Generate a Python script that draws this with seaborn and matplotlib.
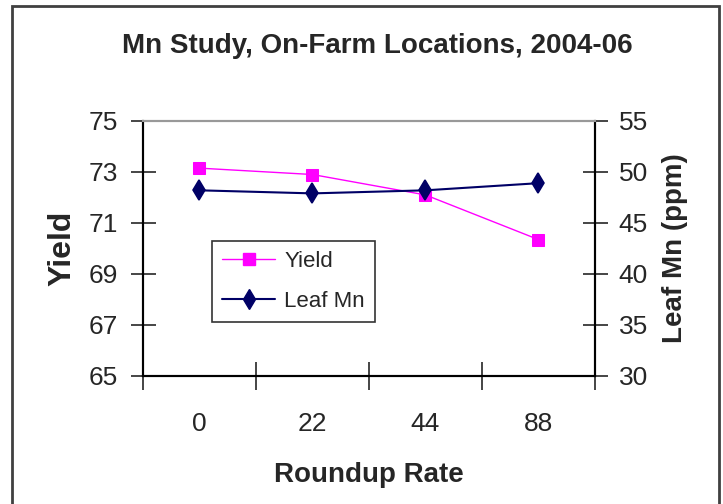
import matplotlib
matplotlib.use("Agg")
import matplotlib.pyplot as plt
import seaborn as sns
from matplotlib.lines import Line2D
from matplotlib.patches import Rectangle

# data
rates = ["0", "22", "44", "88"]
yield_vals = [73.15, 72.9, 72.1, 70.35]
leaf_mn = [48.2, 47.9, 48.2, 48.9]

yield_ticks = [65, 67, 69, 71, 73, 75]
mn_ticks = [30, 35, 40, 45, 50, 55]

yield_color = "#FF00FF"
mn_color = "#000066"

sns.set_style("white")
plt.rcParams["font.family"] = ["Liberation Sans", "DejaVu Sans"]

fig = plt.figure(figsize=(7.23, 5.04), dpi=100)
ax = fig.add_axes([0.1978, 0.254, 0.625, 0.506])
ax2 = ax.twinx()

sns.pointplot(x=rates, y=yield_vals, ax=ax, color=yield_color, markers="s",
              markersize=8.5, linewidth=1.0, errorbar=None)
sns.pointplot(x=rates, y=leaf_mn, ax=ax2, color=mn_color, markers="d",
              markersize=10, linewidth=1.5, errorbar=None)

ax.set_xlim(-0.5, 3.5)
ax.set_ylim(65, 75)
ax2.set_ylim(30, 55)
ax.set_yticks(yield_ticks)
ax2.set_yticks(mn_ticks)
ax.set_xticks([0, 1, 2, 3])
ax.set_xticklabels(rates)

# category boundary ticks like the original spreadsheet chart
ax.set_xticks([-0.5, 0.5, 1.5, 2.5, 3.5], minor=True)
ax.tick_params(axis="x", which="major", length=0, labelsize=19, pad=26)
ax.tick_params(axis="x", which="minor", direction="inout", length=20, width=1.2, bottom=True)
ax.tick_params(axis="y", direction="inout", length=18, width=1.2, labelsize=19, pad=9, left=True)
ax2.tick_params(axis="y", direction="inout", length=18, width=1.2, labelsize=19, pad=8, right=True)

for a in (ax, ax2):
    for side in ("left", "right", "bottom"):
        a.spines[side].set_color("black")
        a.spines[side].set_linewidth(1.5)
    a.spines["top"].set_color("#999999")
    a.spines["top"].set_linewidth(1.5)

ax.set_xlabel("Roundup Rate", fontsize=20, fontweight="bold", labelpad=19)
ax.set_ylabel("Yield", fontsize=23, fontweight="bold", labelpad=8)
ax2.set_ylabel("Leaf Mn (ppm)", fontsize=20, fontweight="bold", labelpad=10)
fig.suptitle("Mn Study, On-Farm Locations, 2004-06", fontsize=20,
             fontweight="bold", x=0.522, y=0.935)

handles = [
    Line2D([], [], color=yield_color, marker="s", markersize=8.5, linewidth=1.0),
    Line2D([], [], color=mn_color, marker="d", markersize=10, linewidth=1.5),
]
leg = ax.legend(handles, ["Yield", "Leaf Mn"], loc="upper left",
                bbox_to_anchor=(0.153, 0.53), borderaxespad=0,
                fontsize=16, frameon=True, fancybox=False, handlelength=2.4,
                handletextpad=0.4, borderpad=0.45, labelspacing=0.85)
leg.get_frame().set_edgecolor("black")
leg.get_frame().set_linewidth(1.2)

# outer chart border, open at the bottom
fig.patches.append(Rectangle((12 / 723, -0.05), (719 - 12) / 723, 1 - 6 / 504 + 0.05,
                             transform=fig.transFigure, fill=False,
                             edgecolor="#404040", linewidth=2))

fig.savefig("out.png", dpi=100)
